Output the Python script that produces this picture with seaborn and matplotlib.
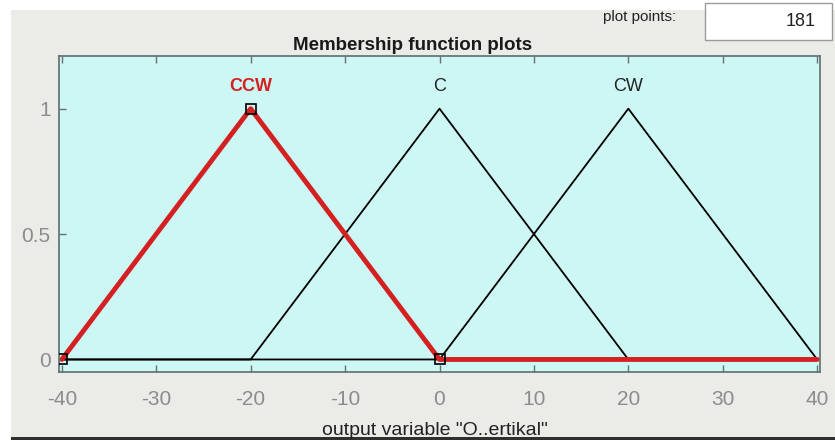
import matplotlib
matplotlib.use("Agg")
import matplotlib.pyplot as plt
import matplotlib.patches as mpatches
import seaborn as sns
import pandas as pd

# Membership functions of the output variable (vertices over the full range)
mf_names = ["CCW", "C", "CW"]
ccw_x = [-40, -20, 0, 40]
ccw_y = [0, 1, 0, 0]
c_x = [-40, -20, 0, 20, 40]
c_y = [0, 0, 1, 0, 0]
cw_x = [-40, 0, 20, 40]
cw_y = [0, 0, 1, 0]
peaks = [-20, 0, 20]
x_ticks = [-40, -30, -20, -10, 0, 10, 20, 30, 40]
y_ticks = [0, 0.5, 1]
y_tick_labels = ["0", "0.5", "1"]
plot_points = 181
x_label = 'output variable "O..ertikal"'
title = "Membership function plots"

sns.set_theme(style="white")
plt.rcParams["font.family"] = ["Liberation Sans", "DejaVu Sans"]

fig = plt.figure(figsize=(8.35, 4.4), dpi=100)
fig.patch.set_facecolor("white")
# window panel background
fig.patches.append(mpatches.Rectangle((11 / 835, 3 / 440), 824 / 835, 427 / 440,
                                      transform=fig.transFigure, facecolor="#ebebe7",
                                      edgecolor="none", zorder=-10))
fig.patches.append(mpatches.Rectangle((11 / 835, 0), 824 / 835, 3 / 440,
                                      transform=fig.transFigure, facecolor="#2f2f2f",
                                      edgecolor="none", zorder=-9))

ax = fig.add_axes([59 / 835, (440 - 372) / 440, (820 - 59) / 835, (372 - 56) / 440])
ax.set_facecolor("#ccf7f4")

df_c = pd.DataFrame({"x": c_x, "y": c_y})
df_cw = pd.DataFrame({"x": cw_x, "y": cw_y})
df_ccw = pd.DataFrame({"x": ccw_x, "y": ccw_y})
sns.lineplot(data=df_c, x="x", y="y", sort=False, estimator=None, color="black", lw=1.3, ax=ax)
sns.lineplot(data=df_cw, x="x", y="y", sort=False, estimator=None, color="black", lw=1.3, ax=ax)
sns.lineplot(data=df_ccw, x="x", y="y", sort=False, estimator=None, color="#d42020", lw=3.5, ax=ax)
# selected-function vertex markers
ax.plot(ccw_x[:3], ccw_y[:3], ls="none", marker="s", ms=7, mfc="none", mec="black", mew=1.2, zorder=5)

for name, px in zip(mf_names, peaks):
    if name == "CCW":
        ax.text(px, 1.09, name, ha="center", va="center", color="#d42020",
                fontsize=13, fontweight="bold")
    else:
        ax.text(px, 1.09, name, ha="center", va="center", color="#222222", fontsize=13)

ax.set_xlim(-40.3, 40.3)
ax.set_ylim(-0.05, 1.21)
ax.set_xticks(x_ticks)
ax.set_xticklabels([str(t) for t in x_ticks])
ax.set_yticks(y_ticks)
ax.set_yticklabels(y_tick_labels)
ax.tick_params(direction="in", length=5, width=1, colors="#6a7070", labelcolor="#8c8c8c",
               labelsize=15, top=True, bottom=True, left=True, right=False)
ax.tick_params(axis="x", pad=13)
ax.tick_params(axis="y", pad=6)
for s in ax.spines.values():
    s.set_color("#5f6e6e")
    s.set_linewidth(1.2)
ax.set_xlabel("")
ax.set_ylabel("")

fig.text(435 / 835, 1 - 430 / 440, x_label, ha="center", va="center", fontsize=14,
         color="#222222")
fig.text(413 / 835, 1 - 45 / 440, title, ha="center", va="center", fontsize=13.5,
         fontweight="bold", color="#1a1a1a")
fig.text(640 / 835, 1 - 17 / 440, "plot points:", ha="center", va="center", fontsize=11,
         color="#222222")
fig.patches.append(mpatches.Rectangle((705 / 835, 1 - 40 / 440), 127 / 835, 37 / 440,
                                      transform=fig.transFigure, facecolor="white",
                                      edgecolor="#9a9a9a", lw=1, zorder=1))
fig.text(816 / 835, 1 - 22 / 440, str(plot_points), ha="right", va="center", fontsize=13,
         color="#222222", zorder=2)

fig.savefig("out.png", dpi=100, facecolor=fig.get_facecolor())
